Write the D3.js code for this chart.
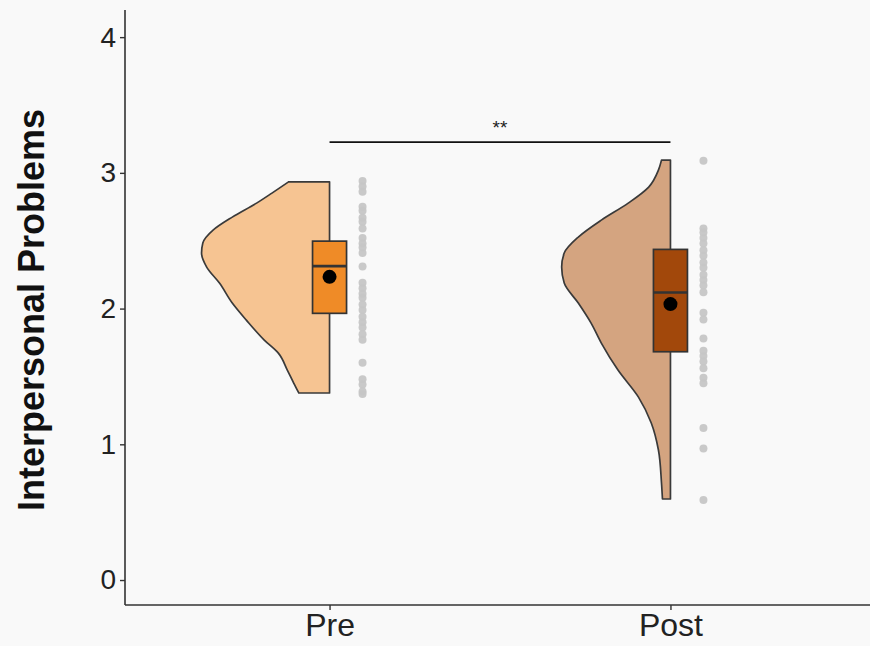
<!DOCTYPE html>
<html><head><meta charset="utf-8">
<script src="https://cdn.jsdelivr.net/npm/d3@7"></script>
<style>
html,body{margin:0;padding:0;background:#f9f9f9;}
svg{display:block;font-family:"Liberation Sans",Arial,sans-serif;}
</style></head>
<body>
<svg id="chart" width="870" height="646"></svg>
<script>
const categories = ["Pre", "Post"];
const yTicks = [0, 1, 2, 3, 4];

// Raw data points
const preValues = [2.94,2.90,2.86,2.75,2.72,2.67,2.64,2.59,2.52,2.48,2.45,2.41,2.31,2.19,2.15,2.11,2.08,2.03,1.99,1.94,1.90,1.86,1.81,1.77,1.60,1.48,1.44,1.39,1.37];
const postValues = [3.09,2.59,2.56,2.52,2.48,2.43,2.39,2.34,2.30,2.25,2.21,2.17,2.12,1.97,1.92,1.78,1.69,1.65,1.61,1.56,1.49,1.45,1.12,0.97,0.59];

// Density outlines (value, relative density)
const preDensityY = [2.934,2.851,2.777,2.674,2.578,2.483,2.409,2.306,2.188,2.041,1.915,1.768,1.672,1.547,1.451,1.378];
const preDensity  = [0.32,0.45,0.57,0.76,0.91,0.99,1.0,0.96,0.86,0.76,0.65,0.51,0.40,0.33,0.28,0.24];
const postDensityY = [3.094,3.02,2.895,2.777,2.652,2.527,2.409,2.306,2.188,2.041,1.893,1.746,1.547,1.348,1.157,0.958,0.715,0.597];
const postDensity  = [0.07,0.094,0.17,0.33,0.54,0.72,0.83,0.85,0.83,0.72,0.62,0.54,0.41,0.25,0.15,0.094,0.07,0.0625];

// Box stats
const boxQ1 = [1.965, 1.682];
const boxMedian = [2.313, 2.119];
const boxQ3 = [2.497, 2.436];
const means = [2.234, 2.033];

const sigY = 3.227;
const sigLabel = "**";
const yTitle = "Interpersonal Problems";

const fills = ["#f6c492", "#d4a480"];
const boxFills = ["#ef8b27", "#a2480b"];

const svg = d3.select("#chart");
const W = 870, H = 646;
const mLeft = 125, mBottom = 605, mTop = 10;

const y = d3.scaleLinear().domain([-0.184, 4.2]).range([mBottom, mTop]);
const x = d3.scalePoint().domain(categories).range([mLeft, 875]).padding(0.6);
const dens = d3.scaleLinear().domain([0, 1]).range([0, 128]);

const groups = [
  {cat: "Pre", vals: preValues, dy: preDensityY, d: preDensity},
  {cat: "Post", vals: postValues, dy: postDensityY, d: postDensity}
];

groups.forEach((g, i) => {
  const cx = x(g.cat);
  const pts = g.dy.map((v, k) => [cx - dens(g.d[k]), y(v)]);
  const curve = d3.line().curve(d3.curveMonotoneY);
  const pathStr = curve(pts);
  const full = pathStr + `L${cx},${y(g.dy[g.dy.length-1])}L${cx},${y(g.dy[0])}Z`;
  svg.append("path").attr("d", full)
    .attr("fill", fills[i]).attr("stroke", "#3a3a3a").attr("stroke-width", 1.7)
    .attr("stroke-linejoin", "round");

  const bw = 34;
  svg.append("rect")
    .attr("x", cx - bw/2).attr("width", bw)
    .attr("y", y(boxQ3[i])).attr("height", y(boxQ1[i]) - y(boxQ3[i]))
    .attr("fill", boxFills[i]).attr("stroke", "#333").attr("stroke-width", 1.7);
  svg.append("line")
    .attr("x1", cx - bw/2).attr("x2", cx + bw/2)
    .attr("y1", y(boxMedian[i])).attr("y2", y(boxMedian[i]))
    .attr("stroke", "#333").attr("stroke-width", 2.6);
  svg.append("circle").attr("cx", cx).attr("cy", y(means[i])).attr("r", 7).attr("fill", "#000");

  svg.append("g").selectAll("circle").data(g.vals).join("circle")
    .attr("cx", cx + 33).attr("cy", d => y(d)).attr("r", 4)
    .attr("fill", "#c6c6c6").attr("opacity", 0.95);
});

svg.append("line")
  .attr("x1", x("Pre")).attr("x2", x("Post"))
  .attr("y1", y(sigY)).attr("y2", y(sigY))
  .attr("stroke", "#111").attr("stroke-width", 1.7);
svg.append("text")
  .attr("x", (x("Pre") + x("Post"))/2).attr("y", y(sigY) - 8)
  .attr("text-anchor", "middle").attr("font-size", 19).attr("fill", "#222")
  .text(sigLabel);

const yAxis = d3.axisLeft(y).tickValues(yTicks).tickSize(5).tickPadding(4).tickFormat(d3.format("d"));
const gy = svg.append("g").attr("transform", `translate(${mLeft},0)`).call(yAxis);
gy.select(".domain").attr("d", `M0,${mTop}V${mBottom}`).attr("stroke", "#333").attr("stroke-width", 1.6);
gy.selectAll(".tick line").attr("stroke", "#333").attr("stroke-width", 1.4);
gy.selectAll(".tick text").attr("font-size", 28).attr("fill", "#222").attr("font-family", "Liberation Sans, Arial, sans-serif");

const xAxis = d3.axisBottom(x).tickSize(5).tickPadding(3);
const gx = svg.append("g").attr("transform", `translate(0,${mBottom})`).call(xAxis);
gx.select(".domain").attr("d", `M${mLeft},0H${W}`).attr("stroke", "#333").attr("stroke-width", 1.6);
gx.selectAll(".tick line").attr("stroke", "#333").attr("stroke-width", 1.4);
gx.selectAll(".tick text").attr("font-size", 32).attr("fill", "#222").attr("font-family", "Liberation Sans, Arial, sans-serif");

svg.append("text")
  .attr("transform", `translate(44,310) rotate(-90)`)
  .attr("text-anchor", "middle").attr("font-size", 36).attr("font-weight", "bold").attr("fill", "#111")
  .text(yTitle);
</script>
</body></html>
